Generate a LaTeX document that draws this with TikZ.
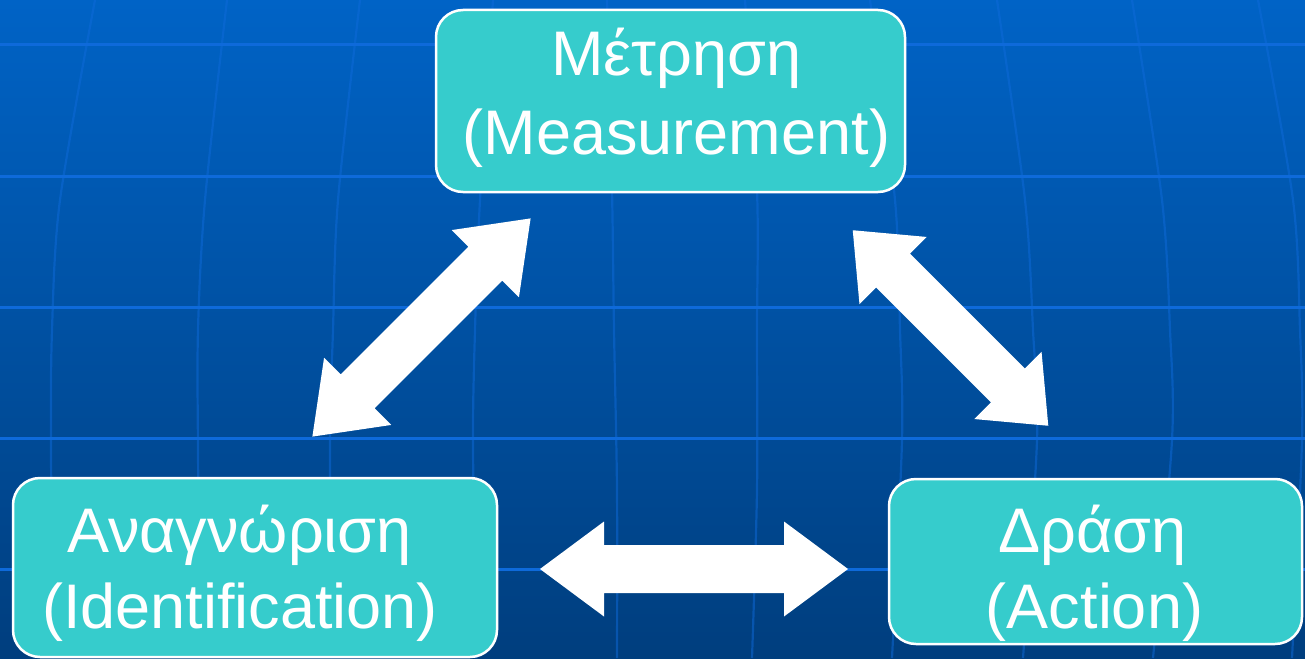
\documentclass[tikz,border=0pt]{standalone}
\usepackage{fontspec}
\setmainfont{Liberation Sans}
\definecolor{bgtop}{RGB}{0,99,198}
\definecolor{bgbot}{RGB}{0,62,126}
\definecolor{gridc}{RGB}{14,106,218}
\definecolor{boxc}{RGB}{54,204,204}
\newcommand{\dblarrow}[5]{%
  \begin{scope}[shift={#2}, rotate=#3]
    \coordinate (#1) at (0,0);
    \fill[white] ({-#4/2},0) -- ({-#4/2+#5},47.5) -- ({-#4/2+#5},24) -- ({#4/2-#5},24)
      -- ({#4/2-#5},47.5) -- ({#4/2},0) -- ({#4/2-#5},-47.5) -- ({#4/2-#5},-24)
      -- ({-#4/2+#5},-24) -- ({-#4/2+#5},-47.5) -- cycle;
  \end{scope}}
\begin{document}
\begin{tikzpicture}[x=1pt,y=-1pt,
  box/.style={draw=white, line width=2.5pt, fill=boxc, rounded corners=27pt, inner sep=0pt},
  lbl/.style={text=white, font=\fontsize{63}{76}\selectfont, anchor=base, inner sep=0pt},
  hgrid/.style={draw=gridc, line width=3pt},
  vgrid/.style={draw=gridc, line width=2.2pt, opacity=0.5}]
\shade[top color=bgtop, bottom color=bgbot] (0,0) rectangle (1305,658);
\useasboundingbox (0,0) rectangle (1305,658);
% horizontal grid
\foreach \yy in {45,176,307,438,569} \draw[hgrid] (0,\yy) -- (1305,\yy);
% vertical grid (curved meridians)
\draw[vgrid] plot[smooth] coordinates {(95,0) (60,200) (52,330) (51,450) (53,658)};
\draw[vgrid] plot[smooth] coordinates {(227,0) (205,200) (198,330) (198,450) (200,658)};
\draw[vgrid] plot[smooth] coordinates {(360,0) (338,200) (333,330) (330,450) (332,658)};
\draw[vgrid] plot[smooth] coordinates {(493,0) (480,200) (475,330) (473,450) (477,658)};
\draw[vgrid] plot[smooth] coordinates {(607,0) (612,190) (614,330) (617,490) (617,658)};
\draw[vgrid] plot[smooth] coordinates {(745,0) (757,190) (757,330) (757,490) (752,658)};
\draw[vgrid] plot[smooth] coordinates {(870,0) (895,200) (900,330) (902,440) (892,658)};
\draw[vgrid] plot[smooth] coordinates {(997,0) (1025,200) (1033,330) (1037,440) (1023,658)};
\draw[vgrid] plot[smooth] coordinates {(1132,0) (1162,200) (1170,330) (1172,440) (1153,658)};
\draw[vgrid] plot[smooth] coordinates {(1258,0) (1293,200) (1300,330) (1302,440) (1292,658)};
% block arrows
\dblarrow{arrL}{(421.5,327.5)}{45}{308.6}{64}
\dblarrow{arrR}{(950.5,328)}{-45}{276.5}{57}
\dblarrow{arrB}{(694,569)}{0}{308}{64}
% boxes
\node[box, minimum width=469pt, minimum height=182pt] (meas) at (670.5,101) {};
\node[box, minimum width=484pt, minimum height=179pt] (ident) at (255,567.5) {};
\node[box, minimum width=413pt, minimum height=165pt] (act) at (1095.5,561.5) {};
% labels
\node[lbl] (measA) at (676.5,76) {Μέτρηση};
\node[lbl] (measB) at (676.5,154) {(Measurement)};
\node[lbl] (identA) at (239.5,552) {Αναγνώριση};
\node[lbl] (identB) at (240,628) {(Identification)};
\node[lbl] (actA) at (1092.5,552) {Δράση};
\node[lbl] (actB) at (1094.5,628) {(Action)};
\end{tikzpicture}
\end{document}
